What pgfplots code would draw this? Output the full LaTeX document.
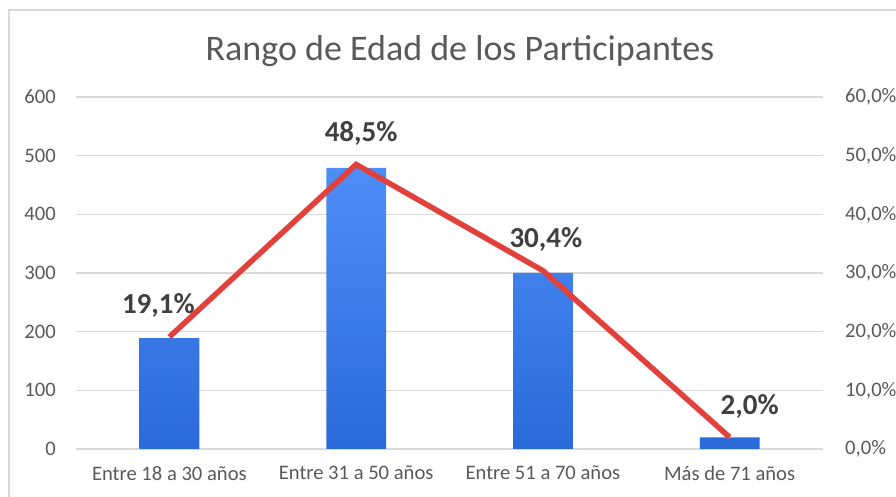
\documentclass[border=0pt]{standalone}
\usepackage{pgfplots}
\pgfplotsset{compat=1.18}
\usepackage{fontspec}
\setmainfont{Carlito}
\definecolor{txt}{HTML}{595959}
\definecolor{gridc}{HTML}{D9D9D9}
\definecolor{barTop}{HTML}{4F8EF7}
\definecolor{barBot}{HTML}{2A6AD8}
\definecolor{lineRed}{HTML}{E2403A}
\definecolor{lbl}{HTML}{404040}
\begin{document}
\begin{tikzpicture}[x=1bp,y=1bp]
\useasboundingbox (0,0) rectangle (896,497);
\draw[gridc, line width=1.5bp] (9,-5) -- (9,487) -- (905,487);
\node[txt, font=\fontsize{36bp}{40bp}\selectfont] at (460,446) {Rango de Edad de los Participantes};
\begin{axis}[
  at={(76bp,48bp)}, anchor=south west, scale only axis,
  width=747bp, height=352bp,
  xmin=-0.5, xmax=3.5, ymin=0, ymax=600,
  ytick={0,100,...,600},
  xtick={0,1,2,3},
  xticklabels={Entre 18 a 30 años, Entre 31 a 50 años, Entre 51 a 70 años, Más de 71 años},
  ymajorgrids, grid style={gridc, line width=1.2bp},
  axis line style={draw=none},
  major tick length=0pt,
  tick label style={text=txt, font=\fontsize{20.6bp}{24bp}\selectfont, inner sep=0pt},
  /pgf/number format/assume math mode=true,
  yticklabel shift=20bp,
  xticklabel shift=17bp,
]
\addplot[ybar, bar width=0.32, draw=none, top color=barTop, bottom color=barBot]
  coordinates {(0,189) (1,479) (2,300) (3,20)};
\end{axis}
\begin{axis}[
  at={(76bp,48bp)}, anchor=south west, scale only axis,
  width=747bp, height=352bp,
  xmin=-0.5, xmax=3.5, ymin=0, ymax=60,
  axis y line*=right, axis x line=none,
  ytick={0,10,...,60},
  yticklabel={\pgfmathprintnumber[fixed,fixed zerofill,precision=1,use comma]{\tick}\%},
  axis line style={draw=none},
  major tick length=0pt,
  tick label style={text=txt, font=\fontsize{20.6bp}{24bp}\selectfont, inner sep=0pt},
  yticklabel style={anchor=west, xshift=22bp, text width=55bp, align=left},
  /pgf/number format/assume math mode=true,
]
\addplot[lineRed, line width=5.5bp, mark=none,
  nodes near coords={\pgfmathprintnumber[fixed,fixed zerofill,precision=1,use comma]{\pgfplotspointmeta}\%},
  visualization depends on={\thisrow{dx}\as\dx},
  every node near coord/.append style={anchor=center, xshift=\dx bp, yshift=31bp,
     font=\bfseries\fontsize{29bp}{32bp}\selectfont, text=lbl, inner sep=0pt},
] table {
x y dx
0 19.1 -11
1 48.5 5
2 30.4 3
3 2.0 20
};
\end{axis}
\end{tikzpicture}
\end{document}
